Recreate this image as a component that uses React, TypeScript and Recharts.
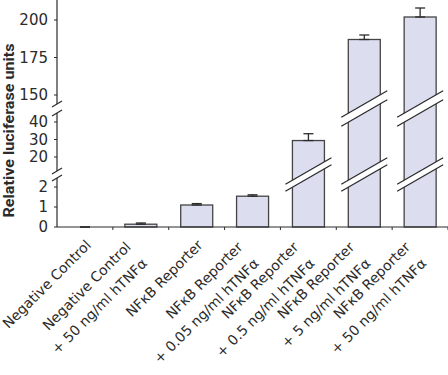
import React from 'react';
import { BarChart, Bar, XAxis, YAxis, ErrorBar } from 'recharts';

const labelTop = ['Negative Control', 'Negative Control', 'NFκB Reporter', 'NFκB Reporter', 'NFκB Reporter', 'NFκB Reporter', 'NFκB Reporter'];
const labelBottom = ['', '+ 50 ng/ml hTNFα', '', '+ 0.05 ng/ml hTNFα', '+ 0.5 ng/ml hTNFα', '+ 5 ng/ml hTNFα', '+ 50 ng/ml hTNFα'];
const luciferase = [0, 0.14, 1.1, 1.54, 29.4, 187, 202];
const sem = [0, 0.06, 0.07, 0.07, 3.9, 3, 6];
const yTickValues = [0, 1, 2, 20, 30, 40, 150, 175, 200];

// broken y axis: three linear pieces, drawn in "display" units (1 unit ~ 1px)
const pieces = [
  { from: 0, to: 2.45, start: 0, k: 20 },
  { from: 12, to: 45.3, start: 56, k: 1.75 },
  { from: 144, to: 215, start: 123, k: 1.5 },
];
const gaps = [
  { lo: 49, hi: 56 },
  { lo: 114, hi: 123 },
];
const TOP = 227;

const toDisp = (v: number) => {
  const p = pieces.find((pc) => v <= pc.to) || pieces[pieces.length - 1];
  return p.start + (Math.max(v, p.from) - p.from) * p.k;
};

const data = luciferase.map((v, i) => ({
  key: labelTop[i] + ' ' + labelBottom[i],
  value: v,
  disp: toDisp(v),
  err: [0, toDisp(v + sem[i]) - toDisp(v)],
}));

const tickLabel = new Map<string, number>();
yTickValues.forEach((v) => tickLabel.set(toDisp(v).toFixed(2), v));
const breakMids = gaps.map((g) => (g.lo + g.hi) / 2);
const yTicks = [...yTickValues.map(toDisp), ...breakMids].sort((a, b) => a - b);

const INK = '#2b2b2b';
const BAR_FILL = '#dcdef0';
const BAR_STROKE = '#444';
const FONT = '"DejaVu Sans", sans-serif';

const BrokenBar = (props: any) => {
  const { x, y, width, height, payload } = props;
  if (!height || height <= 0) return null;
  const zeroY = y + height;
  const pxPer = height / payload.disp;
  const toY = (d: number) => zeroY - d * pxPer;
  const cx = x + width / 2;
  const s = 0.575;
  const x0 = x - 7;
  const x1 = x + width + 7;
  return (
    <g>
      <rect x={x} y={y} width={width} height={height} fill={BAR_FILL} stroke={BAR_STROKE} strokeWidth={1.3} />
      {gaps
        .filter((g) => payload.disp > g.hi)
        .map((g, i) => {
          const yU = toY(g.hi);
          const yL = toY(g.lo);
          const pts = [
            [x0, yU + (cx - x0) * s],
            [x1, yU - (x1 - cx) * s],
            [x1, yL - (x1 - cx) * s],
            [x0, yL + (cx - x0) * s],
          ];
          return (
            <g key={i}>
              <polygon points={pts.map((p) => p.join(',')).join(' ')} fill="#fff" />
              <line x1={pts[0][0]} y1={pts[0][1]} x2={pts[1][0]} y2={pts[1][1]} stroke={INK} strokeWidth={1.3} />
              <line x1={pts[3][0]} y1={pts[3][1]} x2={pts[2][0]} y2={pts[2][1]} stroke={INK} strokeWidth={1.3} />
            </g>
          );
        })}
    </g>
  );
};

const YTick = (props: any) => {
  const { x, y, payload } = props;
  const axisX = x + 9;
  const g = gaps.find((gp) => Math.abs((gp.lo + gp.hi) / 2 - payload.value) < 0.01);
  if (g) {
    const half = (g.hi - g.lo) / 2;
    const yTop = y - half;
    const yBot = y + half;
    return (
      <g>
        <rect x={axisX - 3} y={yTop} width={6} height={yBot - yTop} fill="#fff" />
        <line x1={axisX - 5} y1={yTop + 3} x2={axisX + 5} y2={yTop - 3} stroke={INK} strokeWidth={1.2} />
        <line x1={axisX - 5} y1={yBot + 3} x2={axisX + 5} y2={yBot - 3} stroke={INK} strokeWidth={1.2} />
      </g>
    );
  }
  const label = tickLabel.get(Number(payload.value).toFixed(2));
  return (
    <g>
      <line x1={axisX - 3} y1={y} x2={axisX} y2={y} stroke={INK} strokeWidth={1} />
      <text x={x} y={y} dy="0.36em" textAnchor="end" fontSize={15} fontFamily={FONT} fill={INK}>
        {label}
      </text>
    </g>
  );
};

const BAND = (448 - 57) / labelTop.length;

const XTick = (props: any) => {
  const { x, y, index } = props;
  const lines = [labelTop[index], labelBottom[index]].filter(Boolean);
  const lh = 23;
  const d = Math.SQRT1_2;
  const ex = lines.length > 1 ? x - 9 : x + 7;
  const ey = lines.length > 1 ? y + 21 : y + 19;
  return (
    <g>
      <line x1={x + BAND / 2} y1={y} x2={x + BAND / 2} y2={y + 3} stroke={INK} strokeWidth={1} />
      {lines.map((t, i) => {
        const lx = ex + i * lh * d;
        const ly = ey + i * lh * d;
        return (
          <text key={i} x={lx} y={ly} textAnchor="end" fontSize={14} fontFamily={FONT} fill={INK} transform={`rotate(-45 ${lx} ${ly})`}>
            {t}
          </text>
        );
      })}
    </g>
  );
};

const YTitle = (props: any) => {
  const vb = props.viewBox || { x: 0, y: 0, height: TOP };
  const tx = vb.x + 14;
  const ty = vb.y + vb.height / 2 + 17;
  return (
    <text
      x={tx}
      y={ty}
      transform={`rotate(-90 ${tx} ${ty})`}
      textAnchor="middle"
      fontSize={15}
      fontWeight="bold"
      fontFamily='Roboto, sans-serif'
      fill={INK}
      textLength={174}
      lengthAdjust="spacingAndGlyphs"
    >
      Relative luciferase units
    </text>
  );
};

export default function App() {
  return (
    <div style={{ position: 'absolute', left: 0, top: 0, background: '#fff' }}>
      <BarChart width={448} height={375} data={data} margin={{ top: 0, right: 0, bottom: 0, left: 0 }} barSize={32}>
        <XAxis
          dataKey="key"
          height={148}
          tickLine={false}
          tickSize={0}
          tickMargin={0}
          interval={0}
          axisLine={{ stroke: INK, strokeWidth: 1.2 }}
          tick={<XTick />}
        />
        <YAxis
          type="number"
          width={57}
          domain={[0, TOP]}
          ticks={yTicks}
          interval={0}
          tickLine={false}
          tickSize={4}
          tickMargin={5}
          axisLine={{ stroke: INK, strokeWidth: 1.2 }}
          tick={<YTick />}
          label={<YTitle />}
        />
        <Bar dataKey="disp" isAnimationActive={false} shape={(p: any) => <BrokenBar {...p} />}>
          <ErrorBar dataKey="err" width={5} stroke={INK} strokeWidth={1.3} direction="y" />
        </Bar>
      </BarChart>
    </div>
  );
}
